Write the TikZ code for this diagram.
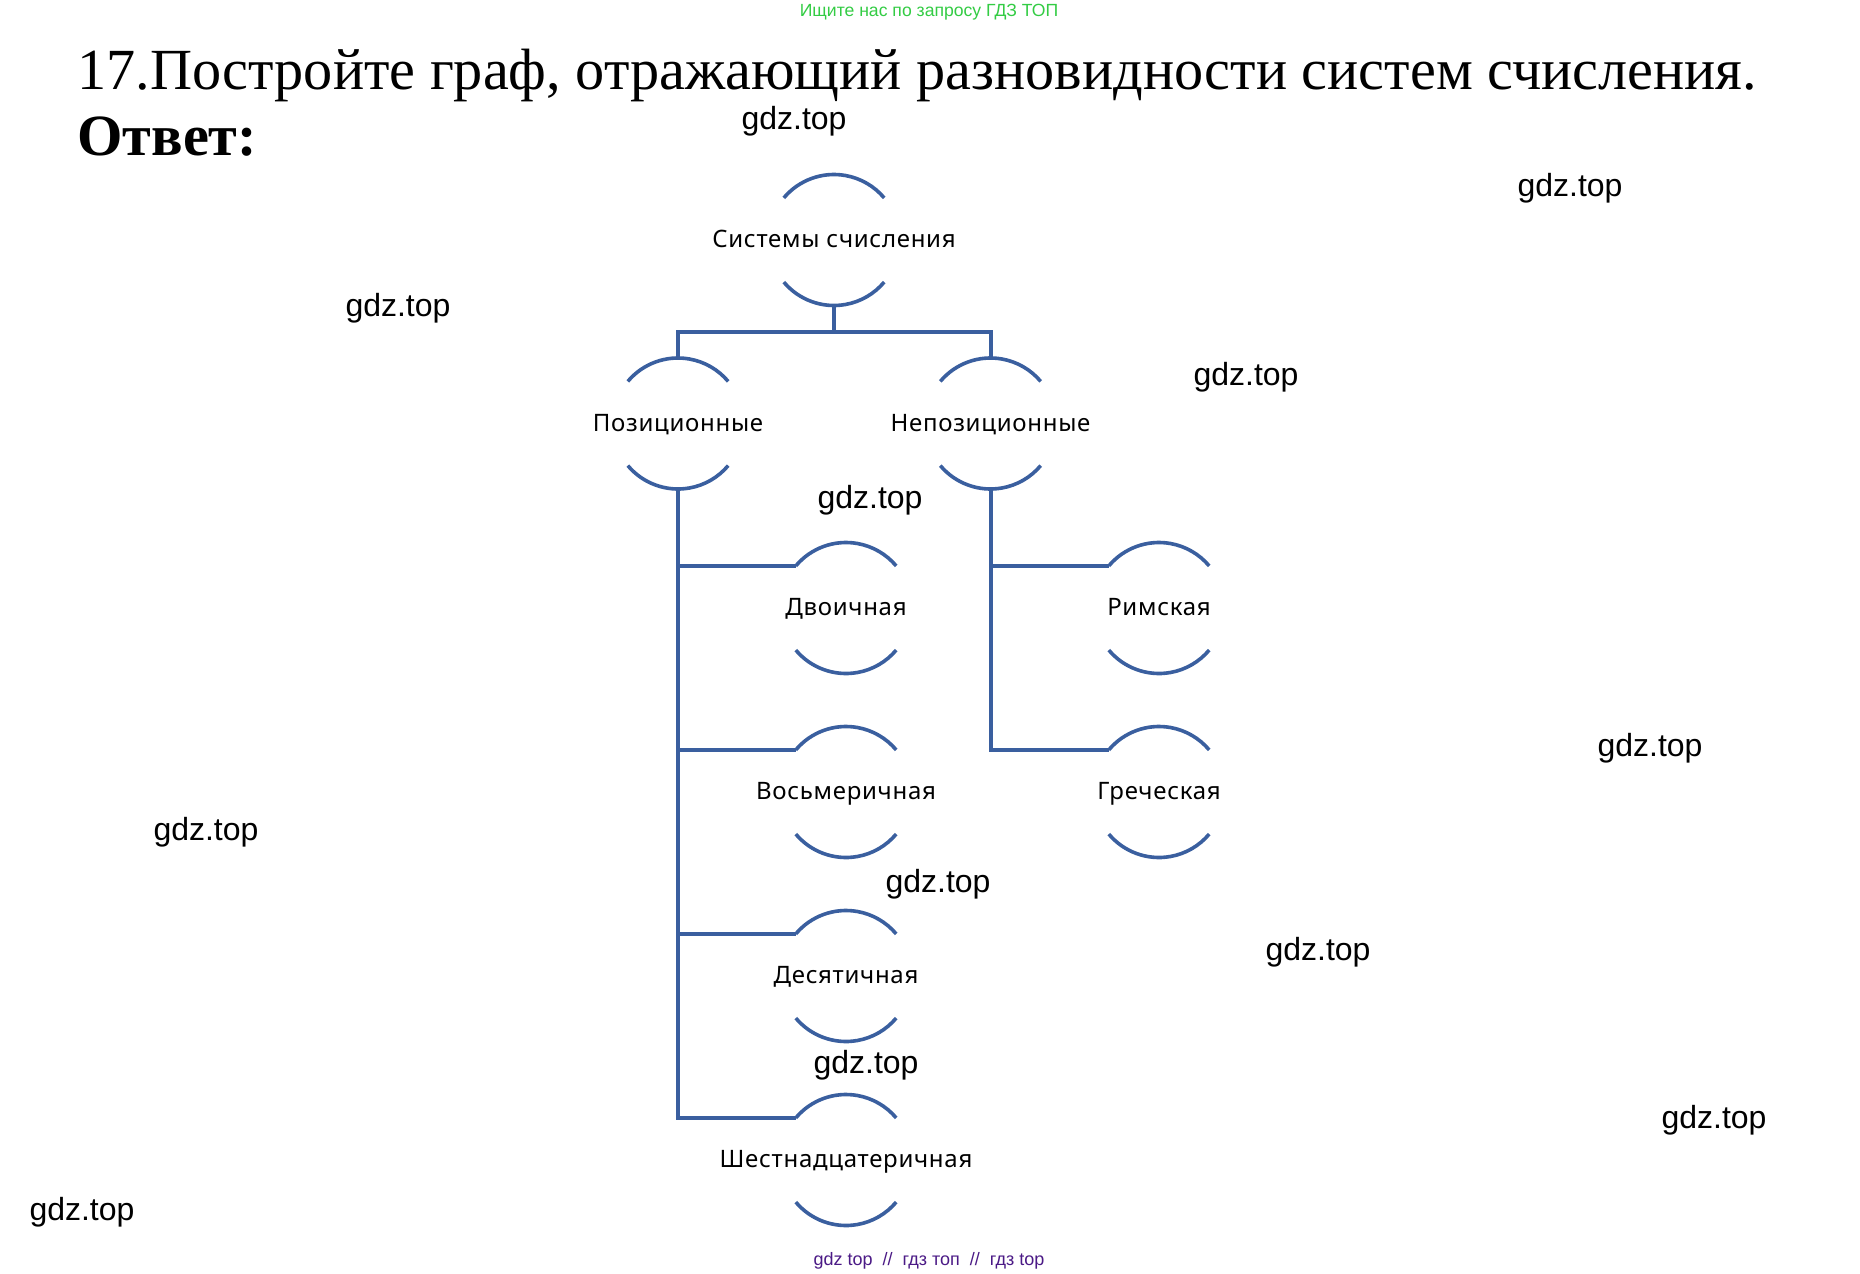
\documentclass[tikz,border=0pt]{standalone}
\usepackage{xcolor}
\usepackage{fontspec}
\usepackage{tikz}
\setmainfont{Liberation Serif}
\newfontfamily\wmfont{Liberation Sans}
\newfontfamily\labelfont[LetterSpace=3]{Noto Sans}
\definecolor{sysblue}{HTML}{3A5F9F}
\definecolor{topgreen}{HTML}{33CC44}
\definecolor{footviolet}{HTML}{4B1A86}
\tikzset{
    sysnode/.style={circle, minimum size=65.5pt, inner sep=0pt, outer sep=0pt},
    syslabel/.style={font=\labelfont\fontsize{12}{14}\selectfont, text height=9pt, text depth=2.5pt, yshift=-0.6pt},
    wmtext/.style={font=\wmfont\fontsize{16}{19}\selectfont},
    arcline/.style={draw=sysblue, line width=1.8pt},
    link/.style={draw=sysblue, line width=2pt}
}
\begin{document}
\begin{tikzpicture}[x=0.5pt, y=-0.5pt]
    \fill[white] (0,0) rectangle (1860,1274);
    \useasboundingbox (0,0) rectangle (1860,1274);

    % Heading
    \node[anchor=center, text=topgreen, font=\wmfont\fontsize{8.8}{11}\selectfont] (search) at (929,12) {Ищите нас по запросу ГДЗ ТОП};
    \node[anchor=west, inner sep=0pt, font=\fontsize{29.12}{34}\selectfont] (task) at (77,75) {17.Постройте граф, отражающий разновидности систем счисления.};
    \node[anchor=west, inner sep=0pt, font=\bfseries\fontsize{29.2}{34}\selectfont] (answer) at (77,137) {Ответ:};

    % Root
    \node[sysnode, label={[syslabel]center:Системы счисления}] (root) at (834,240) {};

    % Kinds
    \node[sysnode, label={[syslabel]center:Позиционные}] (pos) at (678,423.5) {};
    \node[sysnode, label={[syslabel]center:Непозиционные}] (npos) at (990.5,423.5) {};

    % Positional systems
    \node[sysnode, label={[syslabel]center:Двоичная}] (bin) at (846,608) {};
    \node[sysnode, label={[syslabel]center:Восьмеричная}] (oct) at (846,792) {};
    \node[sysnode, label={[syslabel]center:Десятичная}] (dec) at (846,976) {};
    \node[sysnode, label={[syslabel]center:Шестнадцатеричная}] (hex) at (846,1160) {};

    % Non-positional systems
    \node[sysnode, label={[syslabel]center:Римская}] (rom) at (1159,608) {};
    \node[sysnode, label={[syslabel]center:Греческая}] (gre) at (1159,792) {};

    % Arcs
    \foreach \n in {root,pos,npos,bin,oct,dec,hex,rom,gre} {
        \draw[arcline] (\n.140) arc[start angle=140, end angle=40, radius=32.75pt];
        \draw[arcline] (\n.-140) arc[start angle=-140, end angle=-40, radius=32.75pt];
    }

    % Edges
    \coordinate (split) at (834,332);
    \draw[link] (root.south) -- (split);
    \draw[link] (split) -| (pos.north);
    \draw[link] (split) -| (npos.north);
    \draw[link] (pos.south) |- (bin.140);
    \draw[link] (pos.south) |- (oct.140);
    \draw[link] (pos.south) |- (dec.140);
    \draw[link] (pos.south) |- (hex.140);
    \draw[link] (npos.south) |- (rom.140);
    \draw[link] (npos.south) |- (gre.140);

    % Watermarks
    \foreach \x/\y [count=\i] in {794/121.5, 1570/188.5, 398/308.5, 1246/377.5, 870/500.5, 1650/748.5, 206/832.5, 938/884.5, 1318/952.5, 866/1065.5, 1714/1120.5, 82/1212.5} {
        \node[wmtext] (wm\i) at (\x,\y) {gdz.top};
    }

    % Footer
    \node[text=footviolet, font=\wmfont\fontsize{9}{11}\selectfont] (foot) at (929,1261) {gdz top \ // \ гдз топ \ // \ гдз top};
\end{tikzpicture}
\end{document}
